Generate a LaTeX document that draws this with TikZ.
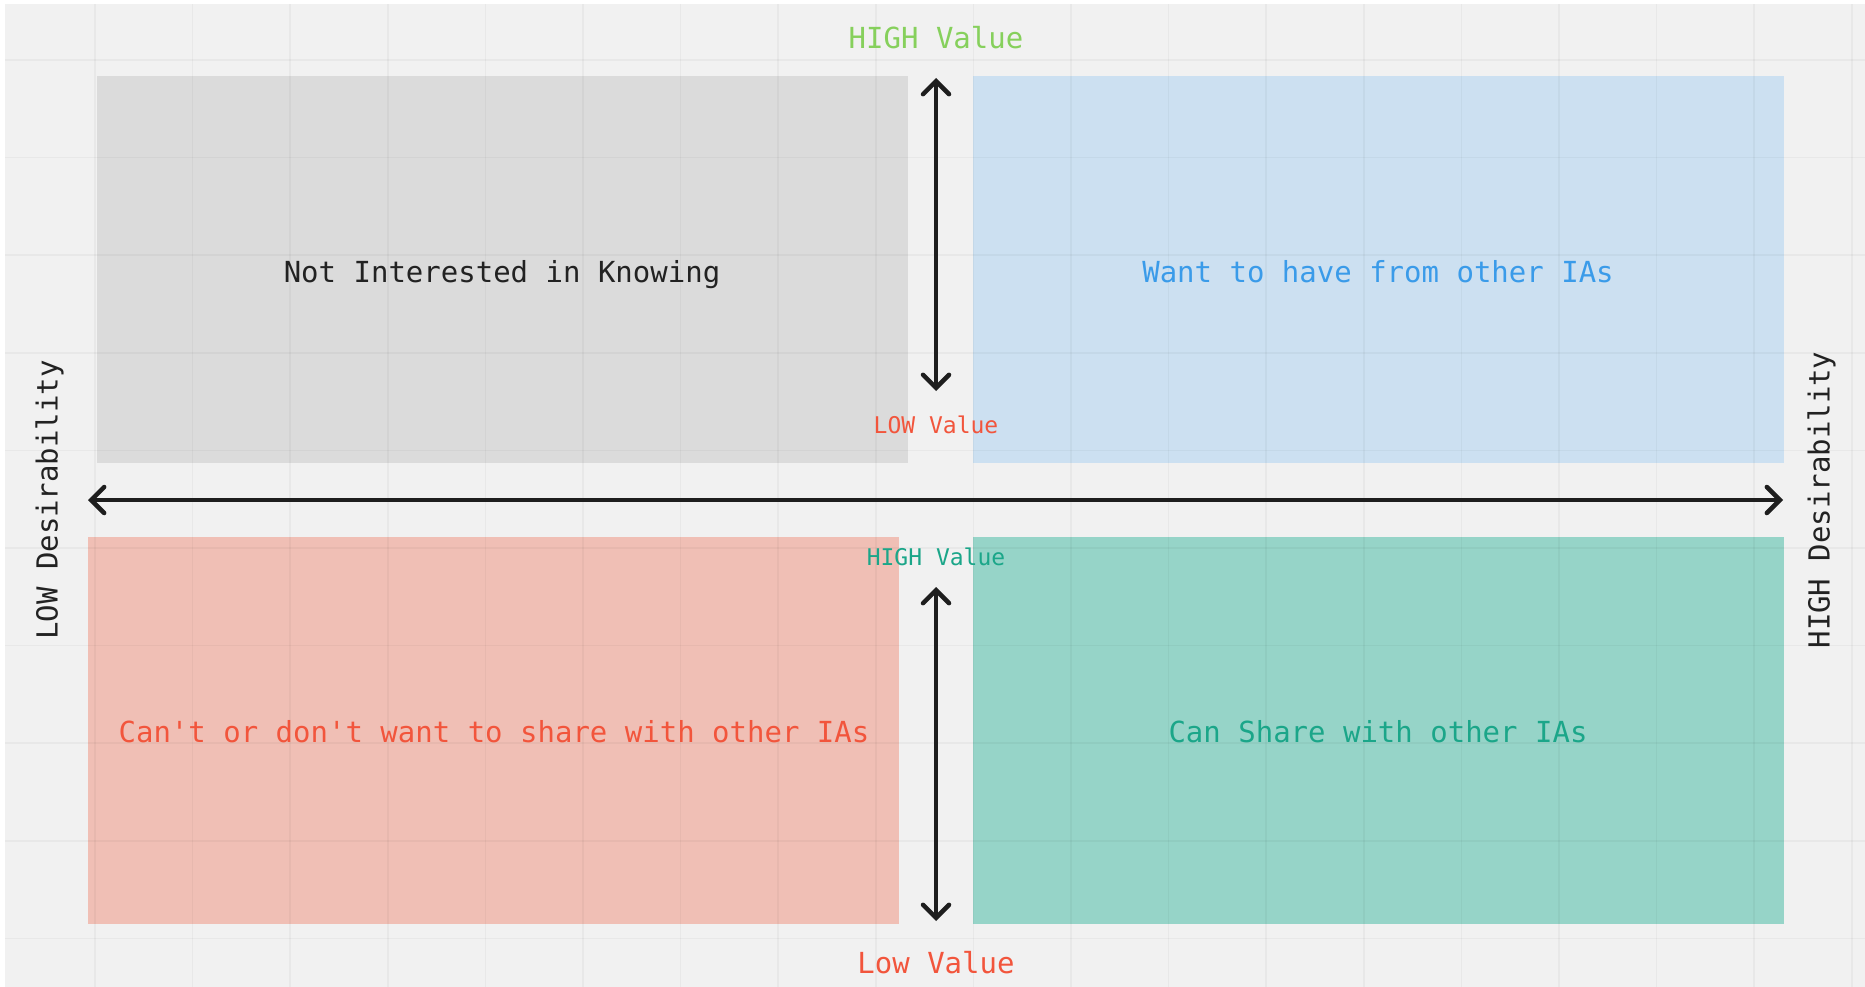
\documentclass[tikz,border=0pt]{standalone}
\usepackage{fontspec}
\setmonofont{DejaVu Sans Mono}
\usetikzlibrary{arrows.meta}
\definecolor{bgc}{HTML}{F1F1F1}
\definecolor{grayq}{HTML}{DBDBDB}
\definecolor{blueq}{HTML}{CCE0F1}
\definecolor{redq}{HTML}{F0BFB5}
\definecolor{tealq}{HTML}{96D4C8}
\definecolor{bluet}{HTML}{3A9BE9}
\definecolor{redt}{HTML}{F2553C}
\definecolor{tealt}{HTML}{1BA689}
\definecolor{greent}{HTML}{86D05C}
\definecolor{darkt}{HTML}{222222}
\definecolor{arrc}{HTML}{1E1E1E}
\tikzset{
  quad/.style={draw=none, inner sep=0pt, anchor=north west},
  bigtxt/.style={font=\ttfamily\fontsize{29}{34}\selectfont, inner sep=0pt, text height=26pt, text depth=4pt},
  sidetxt/.style={font=\ttfamily\fontsize{29}{34}\selectfont, inner sep=0pt, text height=21pt, text depth=6pt, rotate=90},
  smalltxt/.style={font=\ttfamily\fontsize{23}{28}\selectfont, inner sep=0pt, text height=19pt, text depth=3pt},
  axis/.style={draw=arrc, line width=4.5pt, line cap=round, {Straight Barb[length=13pt,width=26pt,line cap=round]}-{Straight Barb[length=13pt,width=26pt,line cap=round]}}
}
\begin{document}
\begin{tikzpicture}[x=1pt,y=-1pt]
\useasboundingbox (0,0) rectangle (1865,987);
\fill[white] (0,0) rectangle (1865,987);
\fill[bgc] (5,4) rectangle (1865,987);
% quadrants
\fill[grayq] (97,76) rectangle (908,463);
\fill[blueq] (973,76) rectangle (1784,463);
\fill[redq] (88,537) rectangle (899,924);
\fill[tealq] (973,537) rectangle (1784,924);
% grid
\foreach \i in {0,...,18} {
  \draw[black, opacity=0.035, line width=1.5pt] (95+97.6*\i,4) -- (95+97.6*\i,987);
}
\foreach \j in {0,...,9} {
  \draw[black, opacity=0.035, line width=1.5pt] (5,60+97.6*\j) -- (1865,60+97.6*\j);
}
% box nodes
\node[quad, minimum width=811pt, minimum height=387pt] (nq) at (97,76) {};
\node[quad, minimum width=811pt, minimum height=387pt] (wq) at (973,76) {};
\node[quad, minimum width=811pt, minimum height=387pt] (cq) at (88,537) {};
\node[quad, minimum width=811pt, minimum height=387pt] (sq) at (973,537) {};
% texts
\node[bigtxt, text=darkt] (tn) at (502,271) {Not Interested in Knowing};
\node[bigtxt, text=bluet] (tw) at (1378,271) {Want to have from other IAs};
\node[bigtxt, text=redt] (tc) at (494,731) {Can't or don't want to share with other IAs};
\node[bigtxt, text=tealt] (ts) at (1378,731) {Can Share with other IAs};
\node[bigtxt, text=greent] (hv1) at (936,38) {HIGH Value};
\node[smalltxt, text=redt] (lv1) at (936,425) {LOW Value};
\node[smalltxt, text=tealt] (hv2) at (936,557) {HIGH Value};
\node[bigtxt, text=redt] (lv2) at (936,962) {Low Value};
\node[sidetxt, text=darkt] (ld) at (50,500) {LOW Desirability};
\node[sidetxt, text=darkt] (hd) at (1822,500) {HIGH Desirability};
% arrows
\coordinate (hl) at (88,500);
\coordinate (hr) at (1783,500);
\coordinate (ut) at (936,78);
\coordinate (ub) at (936,391);
\coordinate (lt) at (936,587);
\coordinate (lb) at (936,921);
\draw[axis] (hl) -- (hr);
\draw[axis] (ub) -- (ut);
\draw[axis] (lt) -- (lb);
\end{tikzpicture}
\end{document}
